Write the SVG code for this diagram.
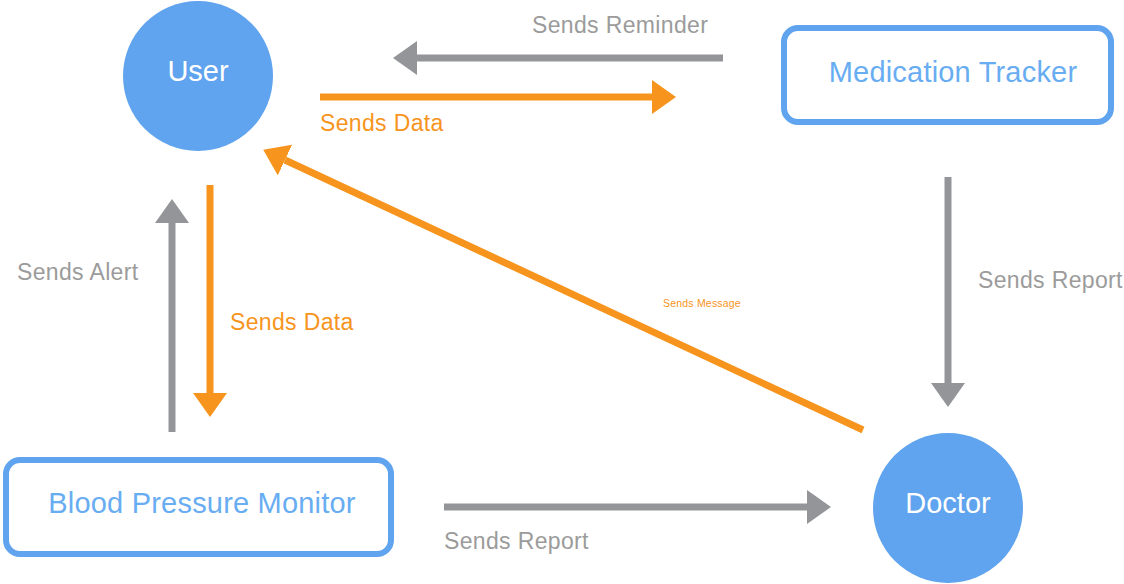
<svg xmlns="http://www.w3.org/2000/svg" width="1124" height="584" viewBox="0 0 1124 584">
  <style>
    .circ { fill: #60A3EE; }
    .box { fill: #FFFFFF; stroke: #60A3EE; stroke-width: 6; }
    .ctext { font-family: "Liberation Sans", Arial, sans-serif; font-size: 29px; fill: #FFFFFF; text-anchor: middle; }
    .btext { font-family: "Liberation Sans", Arial, sans-serif; font-size: 29px; letter-spacing: 0.2px; fill: #68ADF2; text-anchor: middle; }
    .gray { stroke: #939598; stroke-width: 7; fill: none; }
    .orange { stroke: #F7941D; stroke-width: 7; fill: none; }
    .glabel { font-family: "Liberation Sans", Arial, sans-serif; font-size: 23px; letter-spacing: 0.35px; fill: #9B9B9B; }
    .olabel { font-family: "Liberation Sans", Arial, sans-serif; font-size: 23px; letter-spacing: 0.35px; fill: #F7941D; }
    .slabel { font-family: "Liberation Sans", Arial, sans-serif; font-size: 10.5px; letter-spacing: 0.2px; fill: #F7941D; }
  </style>
  <defs>
    <marker id="ag" markerUnits="userSpaceOnUse" viewBox="0 0 24 34" refX="0" refY="17" markerWidth="24" markerHeight="34" orient="auto">
      <path d="M0,0 L24,17 L0,34 Z" fill="#939598"/>
    </marker>
    <marker id="ao" markerUnits="userSpaceOnUse" viewBox="0 0 24 34" refX="0" refY="17" markerWidth="24" markerHeight="34" orient="auto">
      <path d="M0,0 L24,17 L0,34 Z" fill="#F7941D"/>
    </marker>
  </defs>

  <g id="connectors">
    <line class="gray" x1="723" y1="58" x2="417" y2="58" marker-end="url(#ag)"/>
    <line class="orange" x1="320" y1="97" x2="652" y2="97" marker-end="url(#ao)"/>
    <line class="gray" x1="172" y1="432" x2="172" y2="223" marker-end="url(#ag)"/>
    <line class="orange" x1="210" y1="185" x2="210" y2="393" marker-end="url(#ao)"/>
    <line class="gray" x1="948" y1="177" x2="948" y2="383" marker-end="url(#ag)"/>
    <line class="gray" x1="444" y1="507" x2="807" y2="507" marker-end="url(#ag)"/>
    <line class="orange" x1="863" y1="430" x2="285" y2="160" marker-end="url(#ao)"/>
    <text class="glabel" x="532" y="33">Sends Reminder</text>
    <text class="olabel" x="320" y="131">Sends Data</text>
    <text class="glabel" x="17" y="280">Sends Alert</text>
    <text class="olabel" x="230" y="330">Sends Data</text>
    <text class="glabel" x="978" y="288">Sends Report</text>
    <text class="slabel" x="663" y="307">Sends Message</text>
    <text class="glabel" x="444" y="549">Sends Report</text>
  </g>

  <g id="user">
    <circle class="circ" cx="198" cy="76" r="75"/>
    <text class="ctext" x="198" y="81">User</text>
  </g>
  <g id="medication-tracker">
    <rect class="box" x="784" y="28" width="327" height="94" rx="14"/>
    <text class="btext" x="953" y="82">Medication Tracker</text>
  </g>
  <g id="blood-pressure-monitor">
    <rect class="box" x="6" y="460" width="385" height="94" rx="14"/>
    <text class="btext" x="202" y="513">Blood Pressure Monitor</text>
  </g>
  <g id="doctor">
    <circle class="circ" cx="948" cy="508" r="75"/>
    <text class="ctext" x="948" y="513">Doctor</text>
  </g>
</svg>
